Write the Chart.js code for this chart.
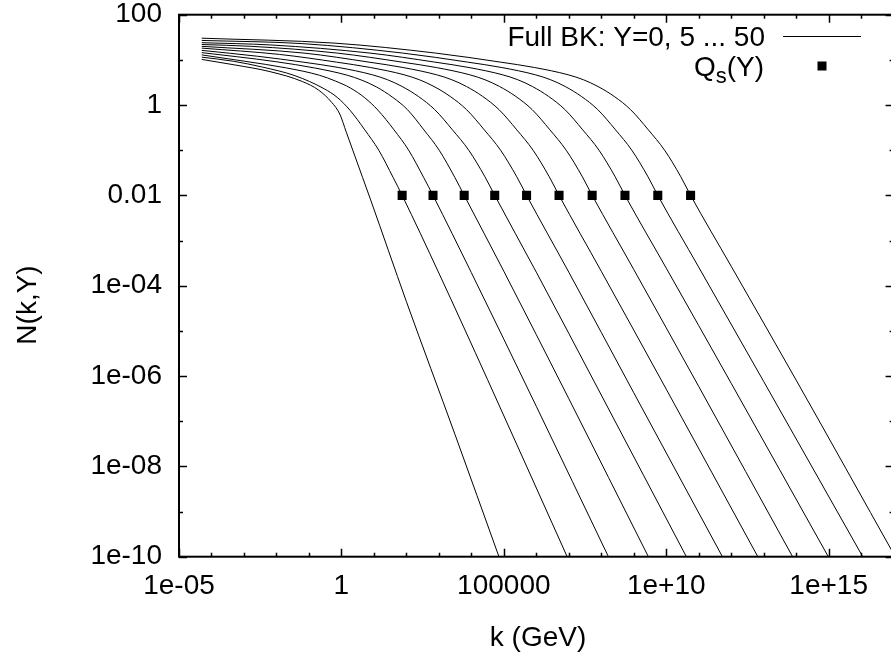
<!DOCTYPE html>
<html><head><meta charset="utf-8">
<script src="https://cdn.jsdelivr.net/npm/chart.js@4.4.0/dist/chart.umd.min.js"></script>
<style>
html,body{margin:0;padding:0;background:#fff;overflow:hidden;width:891px;height:652px}
#wrap{position:absolute;left:0;top:0;width:900px;height:652px}
</style>
</head><body><div id="wrap"><canvas id="c" width="900" height="652"></canvas></div>
<script>
// ---- data (log10 values) ----
const rapidities = [0, 5, 10, 15, 20, 25, 30, 35, 40, 45, 50];

const curveLog10K = [
  [-4.3,-3.3,-2.2,-1.2,-0.7,-0.3,-0.05,0.15,0.35,0.65,0.9,2.0,3.5,4.85],
  [-4.3,-3.33,-2.43,-1.43,-0.53,-0.13,0.27,0.72,1.15,1.59,1.87,3.0,4.5,6.95],
  [-4.3,-2.98,-1.68,-0.68,-0.18,0.27,0.72,1.12,1.62,2.07,2.53,2.82,4.0,6.0,8.22],
  [-4.3,-3.22,-2.02,-0.82,0.18,0.63,1.08,1.58,2.03,2.54,3.01,3.49,3.78,5.0,7.0,9.45],
  [-4.3,-2.58,-1.18,-0.08,0.95,1.42,1.87,2.37,2.87,3.42,3.92,4.42,4.72,6.0,8.0,10.62],
  [-4.3,-1.9,-0.15,0.9,1.93,2.4,2.85,3.35,3.85,4.4,4.9,5.4,5.7,7.0,9.0,11.73],
  [-4.3,-1.15,0.85,1.9,2.93,3.4,3.85,4.35,4.85,5.4,5.9,6.4,6.7,8.0,10.0,12.82],
  [-4.3,-2.78,-0.13,1.87,2.92,3.95,4.42,4.87,5.37,5.87,6.42,6.92,7.42,7.72,9.0,11.0,13.89],
  [-4.3,-2.17,0.88,2.88,3.93,4.96,5.43,5.88,6.38,6.88,7.43,7.93,8.43,8.73,10.0,12.0,14.99],
  [-4.3,-1.21,1.89,3.89,4.94,5.97,6.44,6.89,7.39,7.89,8.44,8.94,9.44,9.74,11.0,13.0,16.05],
  [-4.3,-0.2,2.9,4.9,5.95,6.98,7.45,7.9,8.4,8.9,9.45,9.95,10.45,10.75,12.0,14.0,17.05]
];
const curveLog10N = [
  [1.01,0.89,0.74,0.52,0.33,0.06,-0.2,-0.6,-1.0,-1.6,-2.1,-4.35,-7.3,-10],
  [1.06,0.97,0.84,0.65,0.36,0.17,-0.12,-0.55,-1.0,-1.6,-2.0,-3.72,-6.08,-10],
  [1.11,0.97,0.82,0.66,0.53,0.38,0.16,-0.11,-0.55,-1.0,-1.6,-2.0,-3.71,-6.67,-10],
  [1.16,1.07,0.96,0.82,0.66,0.55,0.4,0.17,-0.1,-0.55,-1.0,-1.6,-2.0,-3.68,-6.5,-10],
  [1.21,1.08,0.95,0.83,0.67,0.56,0.41,0.19,-0.1,-0.55,-1.0,-1.59,-2.0,-3.7,-6.42,-10],
  [1.26,1.12,0.95,0.83,0.67,0.56,0.41,0.19,-0.1,-0.55,-1.0,-1.59,-2.0,-3.7,-6.37,-10],
  [1.30,1.15,0.95,0.83,0.67,0.56,0.41,0.19,-0.1,-0.55,-1.0,-1.59,-2.0,-3.68,-6.29,-10],
  [1.34,1.3,1.15,0.95,0.83,0.67,0.56,0.41,0.19,-0.1,-0.55,-1.0,-1.59,-2.0,-3.64,-6.23,-10],
  [1.38,1.33,1.15,0.95,0.83,0.67,0.56,0.41,0.19,-0.1,-0.55,-1.0,-1.59,-2.0,-3.61,-6.16,-10],
  [1.43,1.36,1.15,0.95,0.83,0.67,0.56,0.41,0.19,-0.1,-0.55,-1.0,-1.59,-2.0,-3.59,-6.12,-10],
  [1.48,1.37,1.15,0.95,0.83,0.67,0.56,0.41,0.19,-0.1,-0.55,-1.0,-1.59,-2.0,-3.57,-6.09,-10]
];

// saturation scale markers Q_s(Y), Y = 5 ... 50
const qsLog10K = [1.87, 2.82, 3.78, 4.72, 5.70, 6.70, 7.72, 8.73, 9.74, 10.75];
const qsN      = [0.01, 0.01, 0.01, 0.01, 0.01, 0.01, 0.01, 0.01, 0.01, 0.01];

// axes
const xMin = 1e-5, xMax = 1e17, yMin = 1e-10, yMax = 100;
const xTickExps   = [-5, 0, 5, 10, 15];
const xTickLabels = ["1e-05", "1", "100000", "1e+10", "1e+15"];
const yTickExps   = [-10, -8, -6, -4, -2, 0, 2];
const yTickLabels = ["1e-10", "1e-08", "1e-06", "1e-04", "0.01", "1", "100"];
const xTitle = "k (GeV)";
const yTitle = "N(k,Y)";
const legendLine = "Full BK: Y=0, 5 ... 50";

// ---- chart ----
const FONT = "'Liberation Sans', Arial, Helvetica, sans-serif";
const FS = 28;

const datasets = curveLog10K.map((ks, i) => ({
  type: 'line',
  label: 'Y=' + rapidities[i],
  data: ks.map((lk, j) => ({ x: Math.pow(10, lk), y: Math.pow(10, curveLog10N[i][j]) })),
  borderColor: '#000',
  borderWidth: 1,
  pointRadius: 0,
  fill: false,
  cubicInterpolationMode: 'monotone'
}));
datasets.push({
  type: 'scatter',
  label: 'Qs(Y)',
  data: qsLog10K.map((lk, j) => ({ x: Math.pow(10, lk), y: qsN[j] })),
  pointStyle: 'rect',
  pointRadius: 6.4,
  backgroundColor: '#000',
  borderColor: '#000',
  borderWidth: 0,
  showLine: false
});

function decadeTicks(lo, hi) {
  const out = [];
  for (let e = lo; e <= hi; e++) out.push({ value: Math.pow(10, e) });
  return out;
}
function labelFor(v, exps, labels) {
  const e = Math.round(Math.log10(v));
  const i = exps.indexOf(e);
  return i >= 0 ? labels[i] : '';
}

const framePlugin = {
  id: 'frame',
  afterDatasetsDraw(chart) {
    const { ctx, chartArea: a, scales: { x, y } } = chart;
    ctx.save();
    ctx.strokeStyle = '#000';
    ctx.lineWidth = 1.5;
    ctx.beginPath();
    x.ticks.forEach(t => {
      const e = Math.round(Math.log10(t.value));
      const len = xTickExps.includes(e) ? 8 : 4;
      const px = Math.round(x.getPixelForValue(t.value)) + 0.5;
      ctx.moveTo(px, a.bottom); ctx.lineTo(px, a.bottom - len);
      ctx.moveTo(px, a.top); ctx.lineTo(px, a.top + len);
    });
    y.ticks.forEach(t => {
      const e = Math.round(Math.log10(t.value));
      const len = yTickExps.includes(e) ? 8 : 4;
      const py = Math.round(y.getPixelForValue(t.value)) + 0.5;
      ctx.moveTo(a.left, py); ctx.lineTo(a.left + len, py);
      ctx.moveTo(a.right, py); ctx.lineTo(a.right - len, py);
    });
    ctx.stroke();
    ctx.lineWidth = 2;
    ctx.strokeRect(a.left, a.top, a.right - a.left, a.bottom - a.top);

    // axis titles
    ctx.fillStyle = '#000';
    ctx.font = FS + 'px ' + FONT;
    ctx.textAlign = 'center';
    ctx.textBaseline = 'alphabetic';
    ctx.fillText(xTitle, 538, 646);
    ctx.save();
    ctx.translate(36, 305);
    ctx.rotate(-Math.PI / 2);
    ctx.fillText(yTitle, 0, 0);
    ctx.restore();

    // legend
    ctx.textAlign = 'right';
    ctx.fillText(legendLine, 765, 46);
    ctx.lineWidth = 1;
    ctx.beginPath();
    ctx.moveTo(783, 36.5); ctx.lineTo(861, 36.5);
    ctx.stroke();
    // Q_s(Y)
    ctx.textAlign = 'left';
    const small = 22;
    ctx.font = FS + 'px ' + FONT;
    const wParen = ctx.measureText('(Y)').width;
    const wQ = ctx.measureText('Q').width;
    ctx.font = small + 'px ' + FONT;
    const wS = ctx.measureText('s').width;
    let xr = 764 - wParen - wS - wQ;
    ctx.font = FS + 'px ' + FONT;
    ctx.fillText('Q', xr, 76);
    ctx.font = small + 'px ' + FONT;
    ctx.fillText('s', xr + wQ, 83);
    ctx.font = FS + 'px ' + FONT;
    ctx.fillText('(Y)', xr + wQ + wS, 76);
    ctx.fillRect(817.5, 61.5, 9, 9);
    ctx.restore();
  }
};

new Chart(document.getElementById('c'), {
  type: 'line',
  data: { datasets },
  options: {
    responsive: false,
    animation: false,
    devicePixelRatio: 1,
    events: [],
    layout: { padding: { left: 0, right: 3, top: 14.7, bottom: 0 } },
    plugins: { legend: { display: false }, tooltip: { enabled: false }, title: { display: false } },
    scales: {
      x: {
        type: 'logarithmic', position: 'bottom', min: xMin, max: xMax,
        afterBuildTicks: s => { s.ticks = decadeTicks(-5, 17); },
        afterFit: s => { s.height = 95.3; s.paddingLeft = 0; s.paddingRight = 0; },
        grid: { display: false, drawTicks: false },
        border: { display: false },
        ticks: {
          autoSkip: false, maxRotation: 0, minRotation: 0, padding: 16, color: '#000',
          font: { family: FONT, size: FS, lineHeight: 1 },
          callback: v => labelFor(v, xTickExps, xTickLabels)
        }
      },
      y: {
        type: 'logarithmic', position: 'left', min: yMin, max: yMax,
        afterBuildTicks: s => { s.ticks = decadeTicks(-10, 2); },
        afterFit: s => { s.width = 179; s.paddingTop = 0; s.paddingBottom = 0; },
        grid: { display: false, drawTicks: false },
        border: { display: false },
        ticks: {
          autoSkip: false, padding: 17, color: '#000',
          font: { family: FONT, size: FS, lineHeight: 1 },
          callback: v => labelFor(v, yTickExps, yTickLabels)
        }
      }
    }
  },
  plugins: [framePlugin]
});
</script>
</body></html>
